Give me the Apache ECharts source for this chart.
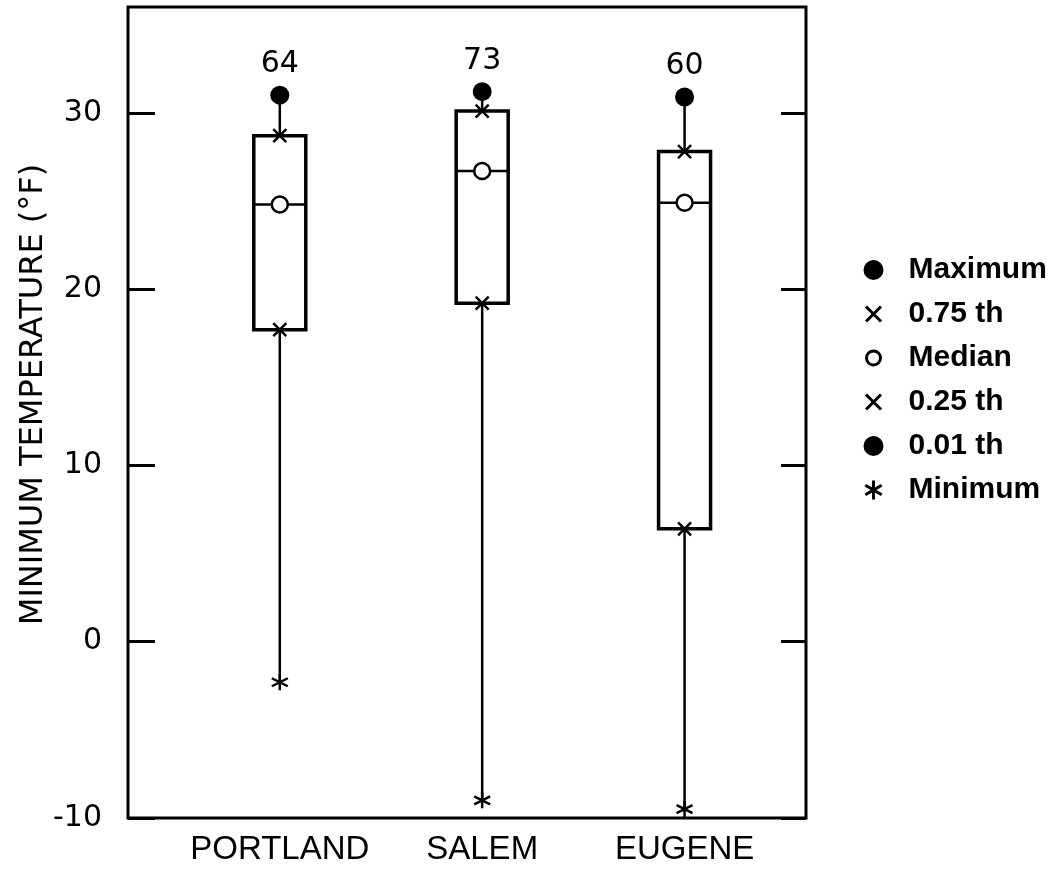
<!DOCTYPE html>
<html>
<head>
<meta charset="utf-8">
<script src="https://cdn.jsdelivr.net/npm/echarts@6/dist/echarts.min.js"></script>
<style>html,body{margin:0;padding:0;background:#fff}#c{width:1052px;height:879px}</style>
</head>
<body>
<div id="c"></div>
<script>
const cities = ['PORTLAND', 'SALEM', 'EUGENE'];
const counts = [64, 73, 60];
const maxVals = [31.0, 31.2, 30.9];
const q3Vals = [28.7, 30.1, 27.8];
const medVals = [24.8, 26.7, 24.9];
const q1Vals = [17.7, 19.2, 6.4];
const minVals = [-2.3, -9.0, -9.5];
const yTicks = [-10, 0, 10, 20, 30];
const legendNames = ['Maximum', '0.75 th', 'Median', '0.25 th', '0.01 th', 'Minimum'];

const pos = cities.map((c, i) => i + 1);
const pts = arr => arr.map((v, i) => [pos[i], v]);

const FONT = 'Liberation Sans';
const DV = 'DejaVu Sans';
const X_PATH = 'path://M0,0L10,10M10,0L0,10';
const AST_PATH = 'path://M5,0L5,10M0.67,2.5L9.33,7.5M0.67,7.5L9.33,2.5';

const chart = echarts.init(document.getElementById('c'), null, {renderer: 'canvas'});

const boxData = pos.map((p, i) => [p, q1Vals[i], medVals[i], q3Vals[i], maxVals[i], minVals[i]]);

const option = {
  animation: false,
  backgroundColor: '#fff',
  textStyle: {fontFamily: FONT, color: '#000'},
  grid: {left: 128, right: 246, top: 7, bottom: 61, show: true, borderColor: '#000', borderWidth: 3},
  xAxis: {
    type: 'value', min: 0.25, max: 3.6,
    axisLine: {show: false}, axisTick: {show: false}, splitLine: {show: false},
    axisLabel: {
      customValues: pos,
      formatter: v => cities[Math.round(v) - 1] || '',
      fontSize: 33, color: '#000', margin: 15, fontFamily: FONT
    }
  },
  yAxis: [{
    type: 'value', min: -10, max: 36, interval: 10, position: 'left',
    name: 'MINIMUM TEMPERATURE (°F)', nameLocation: 'middle', nameGap: 78, nameMoveOverlap: false,
    nameTextStyle: {fontSize: 32, color: '#000', fontFamily: DV, padding: [0, 0, 0, 36]},
    axisLine: {show: false}, splitLine: {show: false},
    axisTick: {show: true, inside: true, length: 27, customValues: yTicks, lineStyle: {color: '#000', width: 3}},
    axisLabel: {customValues: yTicks, fontSize: 30, color: '#000', margin: 26, fontFamily: DV}
  }, {
    type: 'value', min: -10, max: 36, interval: 10, position: 'right',
    axisLine: {show: false}, splitLine: {show: false},
    axisTick: {show: true, inside: true, length: 25, customValues: yTicks, lineStyle: {color: '#000', width: 3}},
    axisLabel: {show: false}
  }],
  legend: {
    orient: 'vertical', left: 857, top: 250, itemWidth: 40, itemHeight: 20, itemGap: 14,
    selectedMode: false,
    textStyle: {fontSize: 30, fontWeight: 'bold', color: '#000', lineHeight: 30, fontFamily: FONT},
    data: [
      {name: legendNames[0], icon: 'path://M0,0M40,20M0,10A10,10,0,1,1,20,10A10,10,0,1,1,0,10Z', itemStyle: {color: '#000', borderWidth: 0, opacity: 1}},
      {name: legendNames[1], icon: 'path://M0,0M40,20M2.5,2.5L17.5,17.5M17.5,2.5L2.5,17.5', itemStyle: {color: '#000', borderColor: '#000', borderWidth: 3, opacity: 1}},
      {name: legendNames[2], icon: 'path://M0,0M40,20M3,10A7,7,0,1,1,17,10A7,7,0,1,1,3,10Z', itemStyle: {color: '#fff', borderColor: '#000', borderWidth: 3, opacity: 1}},
      {name: legendNames[3], icon: 'path://M0,0M40,20M2.5,2.5L17.5,17.5M17.5,2.5L2.5,17.5', itemStyle: {color: '#000', borderColor: '#000', borderWidth: 3, opacity: 1}},
      {name: legendNames[4], icon: 'path://M0,0M40,20M0,10A10,10,0,1,1,20,10A10,10,0,1,1,0,10Z', itemStyle: {color: '#000', borderWidth: 0, opacity: 1}},
      {name: legendNames[5], icon: 'path://M0,0M40,20M10,0.5L10,19.5M1.8,5.25L18.2,14.75M1.8,14.75L18.2,5.25', itemStyle: {color: '#000', borderColor: '#000', borderWidth: 3, opacity: 1}}
    ]
  },
  series: [
    {
      type: 'custom', name: 'box', z: 1, silent: true,
      data: boxData,
      encode: {x: 0, y: [1, 2, 3, 4, 5]},
      renderItem: (params, api) => {
        const x = api.value(0);
        const pQ1 = api.coord([x, api.value(1)]);
        const pMed = api.coord([x, api.value(2)]);
        const pQ3 = api.coord([x, api.value(3)]);
        const pMax = api.coord([x, api.value(4)]);
        const pMin = api.coord([x, api.value(5)]);
        const hw = 26;
        return {
          type: 'group',
          children: [
            {type: 'line', shape: {x1: pMax[0], y1: pMax[1], x2: pQ3[0], y2: pQ3[1]}, style: {stroke: '#000', lineWidth: 2.5}},
            {type: 'line', shape: {x1: pQ1[0], y1: pQ1[1], x2: pMin[0], y2: pMin[1]}, style: {stroke: '#000', lineWidth: 2.5}},
            {type: 'rect', shape: {x: pQ3[0] - hw, y: pQ3[1], width: hw * 2, height: pQ1[1] - pQ3[1]}, style: {stroke: '#000', lineWidth: 3.5, fill: '#fff'}},
            {type: 'line', shape: {x1: pMed[0] - hw, y1: pMed[1], x2: pMed[0] + hw, y2: pMed[1]}, style: {stroke: '#000', lineWidth: 2.5}}
          ]
        };
      }
    },
    {
      type: 'scatter', name: legendNames[0], z: 3, data: pts(maxVals),
      symbol: 'circle', symbolSize: 19, itemStyle: {color: '#000', opacity: 1},
      label: {show: true, position: 'top', distance: 6, fontSize: 30, color: '#000', fontFamily: DV,
        formatter: p => String(counts[p.dataIndex])},
      emphasis: {disabled: true}
    },
    {
      type: 'scatter', name: legendNames[1], z: 3, data: pts(q3Vals),
      symbol: X_PATH, symbolSize: 13, itemStyle: {color: '#000', borderColor: '#000', borderWidth: 2.5, opacity: 1},
      emphasis: {disabled: true}
    },
    {
      type: 'scatter', name: legendNames[2], z: 3, data: pts(medVals),
      symbol: 'circle', symbolSize: 16, itemStyle: {color: '#fff', borderColor: '#000', borderWidth: 2.5, opacity: 1},
      emphasis: {disabled: true}
    },
    {
      type: 'scatter', name: legendNames[3], z: 3, data: pts(q1Vals),
      symbol: X_PATH, symbolSize: 13, itemStyle: {color: '#000', borderColor: '#000', borderWidth: 2.5, opacity: 1},
      emphasis: {disabled: true}
    },
    {
      type: 'scatter', name: legendNames[4], z: 3, data: [],
      symbol: 'circle', symbolSize: 19, itemStyle: {color: '#000', opacity: 1}
    },
    {
      type: 'scatter', name: legendNames[5], z: 3, data: pts(minVals),
      symbol: AST_PATH, symbolSize: 16, itemStyle: {color: '#000', borderColor: '#000', borderWidth: 2.5, opacity: 1},
      emphasis: {disabled: true}
    }
  ]
};
chart.setOption(option);
</script>
</body>
</html>
